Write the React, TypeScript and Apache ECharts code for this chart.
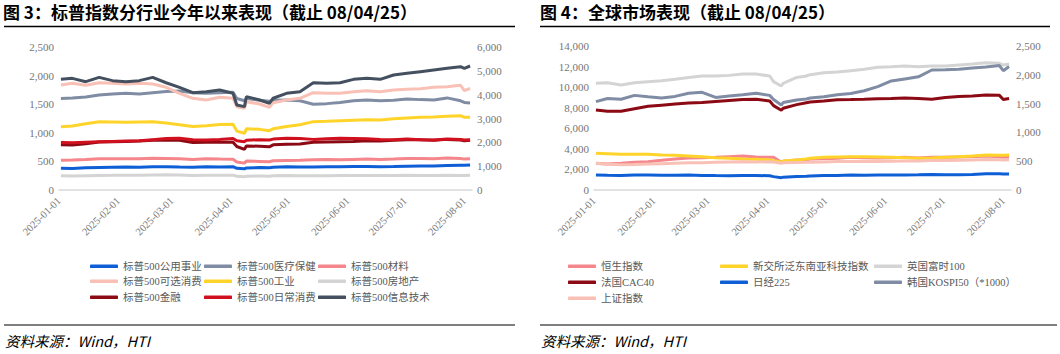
import React, { useEffect, useRef } from 'react';
import * as echarts from 'echarts';

// ---------- shared dates ----------
const dates = [
  '2025-01-02', '2025-01-08', '2025-01-15', '2025-01-22', '2025-01-29',
  '2025-02-05', '2025-02-12', '2025-02-19', '2025-02-26', '2025-03-05',
  '2025-03-12', '2025-03-19', '2025-03-26', '2025-04-02', '2025-04-04',
  '2025-04-08', '2025-04-09', '2025-04-16', '2025-04-21', '2025-04-23',
  '2025-04-30', '2025-05-07', '2025-05-14', '2025-05-21', '2025-05-28',
  '2025-06-04', '2025-06-11', '2025-06-18', '2025-06-25', '2025-07-02',
  '2025-07-09', '2025-07-16', '2025-07-23', '2025-07-30', '2025-08-01',
  '2025-08-04',
];
const monthTicks = ['2025-01-01', '2025-02-01', '2025-03-01', '2025-04-01', '2025-05-01', '2025-06-01', '2025-07-01', '2025-08-01'];

// ---------- Figure 3: S&P 500 sectors ----------
const spUtilities = [380, 378, 390, 395, 398, 400, 398, 405, 405, 400, 398, 405, 402, 408, 380, 370, 385, 392, 388, 398, 405, 400, 400, 405, 408, 410, 412, 408, 410, 415, 418, 420, 428, 432, 432, 438];
const spHealth = [1600, 1610, 1625, 1660, 1680, 1690, 1680, 1700, 1720, 1730, 1700, 1690, 1700, 1710, 1600, 1560, 1600, 1570, 1550, 1570, 1575, 1560, 1500, 1510, 1530, 1560, 1575, 1560, 1570, 1590, 1580, 1575, 1610, 1560, 1530, 1520];
const spMaterials = [520, 525, 535, 548, 545, 545, 548, 555, 552, 545, 535, 545, 540, 538, 490, 470, 505, 500, 495, 510, 515, 520, 530, 532, 530, 535, 540, 535, 540, 552, 550, 548, 560, 550, 540, 545];
const spDiscretionary = [1835, 1865, 1830, 1876, 1865, 1853, 1865, 1853, 1795, 1690, 1603, 1573, 1620, 1603, 1457, 1428, 1544, 1503, 1445, 1527, 1573, 1603, 1701, 1690, 1690, 1719, 1736, 1719, 1748, 1760, 1771, 1795, 1806, 1830, 1736, 1777];
const spIndustrials = [1107, 1120, 1160, 1194, 1190, 1185, 1190, 1194, 1170, 1140, 1110, 1125, 1145, 1150, 1030, 991, 1070, 1060, 1037, 1070, 1110, 1140, 1195, 1200, 1210, 1220, 1230, 1224, 1245, 1260, 1270, 1275, 1290, 1300, 1270, 1272];
const spRealEstate = [248, 245, 250, 255, 256, 258, 257, 262, 265, 262, 255, 258, 256, 260, 240, 232, 242, 245, 242, 248, 252, 250, 250, 248, 252, 252, 255, 252, 254, 256, 255, 254, 260, 254, 255, 256];
const spFinancials = [790, 785, 810, 840, 845, 850, 855, 870, 875, 870, 830, 835, 840, 835, 760, 711, 770, 765, 755, 790, 800, 805, 835, 840, 845, 850, 860, 855, 870, 880, 880, 870, 885, 875, 860, 870];
const spStaples = [830, 825, 835, 845, 850, 855, 860, 880, 900, 905, 880, 875, 885, 900, 860, 845, 870, 880, 875, 890, 905, 900, 885, 895, 905, 900, 895, 885, 880, 890, 880, 875, 890, 885, 875, 880];
const spTech = [4643, 4685, 4545, 4727, 4588, 4545, 4588, 4727, 4500, 4308, 4085, 4126, 4196, 4057, 3566, 3497, 3916, 3776, 3636, 3850, 4057, 4126, 4500, 4475, 4500, 4643, 4685, 4643, 4825, 4895, 4965, 5035, 5105, 5175, 5105, 5203];

const spNames = ['标普500公用事业', '标普500医疗保健', '标普500材料', '标普500可选消费', '标普500工业', '标普500房地产', '标普500金融', '标普500日常消费', '标普500信息技术'];
const spColors = ['#0e5fd6', '#7f8ca3', '#f4868c', '#f9c0b5', '#ffd42a', '#d4d4d4', '#8b0a14', '#d0101e', '#44505f'];
const spValues = [spUtilities, spHealth, spMaterials, spDiscretionary, spIndustrials, spRealEstate, spFinancials, spStaples, spTech];
const spOnRight = [false, false, false, false, false, false, false, false, true];

// ---------- Figure 4: global markets ----------
const gHangSeng = [2593, 2528, 2593, 2690, 2755, 2884, 3014, 3110, 3143, 3176, 3241, 3305, 3208, 3176, 3176, 2690, 2787, 2917, 2949, 3014, 3046, 3078, 3176, 3143, 3110, 3143, 3176, 3110, 3176, 3176, 3208, 3241, 3305, 3241, 3176, 3208];
const gSgxTech = [3565, 3532, 3468, 3468, 3468, 3403, 3370, 3305, 3241, 3143, 3078, 3014, 2981, 2917, 2852, 2722, 2819, 2917, 3014, 3078, 3176, 3208, 3241, 3241, 3208, 3176, 3143, 3078, 3110, 3176, 3241, 3305, 3403, 3370, 3370, 3403];
const gFtse = [1852, 1863, 1823, 1863, 1881, 1898, 1922, 1955, 1979, 1979, 1990, 2014, 2014, 1979, 1881, 1806, 1852, 1955, 1979, 2002, 2037, 2049, 2072, 2095, 2130, 2141, 2153, 2141, 2153, 2153, 2170, 2187, 2210, 2199, 2170, 2187];
const gCac = [7778, 7650, 7650, 7900, 8150, 8250, 8350, 8450, 8500, 8600, 8700, 8800, 8820, 8650, 8200, 7750, 7950, 8300, 8480, 8550, 8650, 8780, 8800, 8830, 8880, 8900, 8950, 8900, 8820, 9000, 9100, 9150, 9240, 9200, 8800, 8900];
const gNikkei = [1460, 1430, 1410, 1450, 1450, 1430, 1440, 1450, 1420, 1400, 1390, 1420, 1420, 1380, 1300, 1200, 1250, 1320, 1330, 1370, 1400, 1420, 1450, 1440, 1460, 1450, 1470, 1480, 1500, 1490, 1480, 1500, 1590, 1580, 1560, 1545];
const gKospi = [8588, 8900, 8820, 9200, 9070, 8950, 9100, 9400, 9500, 9000, 9150, 9250, 9400, 9200, 8800, 8264, 8500, 8750, 8850, 8950, 9070, 9250, 9380, 9650, 10046, 10600, 10800, 11000, 11666, 11700, 11750, 11850, 11950, 12100, 11600, 12000];
const gShanghai = [2593, 2500, 2450, 2470, 2520, 2560, 2600, 2640, 2660, 2700, 2720, 2740, 2730, 2740, 2720, 2600, 2640, 2680, 2700, 2710, 2720, 2760, 2780, 2790, 2780, 2800, 2820, 2830, 2860, 2880, 2900, 2910, 2960, 2950, 2920, 2940];

const gNames = ['恒生指数', '新交所泛东南亚科技指数', '英国富时100', '法国CAC40', '日经225', '韩国KOSPI50（*1000）', '上证指数'];
const gColors = ['#f4868c', '#ffd42a', '#d4d4d4', '#8b0a14', '#0e5fd6', '#7f8ca3', '#f9c0b5'];
const gValues = [gHangSeng, gSgxTech, gFtse, gCac, gNikkei, gKospi, gShanghai];
const gOnRight = [false, false, true, false, false, false, false];

// ---------- helpers ----------
const toTime = (s: string) => {
  const [y, m, d] = s.split('-').map(Number);
  return new Date(y, m - 1, d).getTime();
};
const pad = (n: number) => (n < 10 ? '0' + n : '' + n);
const fmtDate = (v: number) => {
  const d = new Date(v);
  return `${d.getFullYear()}-${pad(d.getMonth() + 1)}-${pad(d.getDate())}`;
};
const fmtNum = (v: number) => Number(v).toLocaleString('en-US');

const SERIF = '"Liberation Serif", "Noto Sans CJK SC", serif';
const LABEL_COLOR = '#757575';

function xAxisCfg(gridIndex: number) {
  return {
    type: 'value',
    gridIndex,
    min: toTime('2025-01-01'),
    max: toTime('2025-08-05'),
    axisLine: { show: true, onZero: false, lineStyle: { color: '#d9d9d9', width: 1.5 } },
    axisTick: { show: false },
    splitLine: { show: false },
    axisLabel: {
      customValues: monthTicks.map(toTime),
      formatter: (v: number) => fmtDate(v),
      rotate: 45,
      margin: 9,
      color: LABEL_COLOR,
      fontSize: 10.5,
      fontFamily: SERIF,
      hideOverlap: false,
    },
  };
}

function yAxisCfg(gridIndex: number, position: string, max: number, interval: number, margin: number) {
  return {
    type: 'value',
    gridIndex,
    position,
    min: 0,
    max,
    interval,
    axisLine: { show: false },
    axisTick: { show: false },
    splitLine: { show: false },
    axisLabel: {
      formatter: (v: number) => fmtNum(v),
      color: LABEL_COLOR,
      fontSize: 11,
      fontFamily: SERIF,
      margin,
    },
  };
}

function buildSeries(names: string[], colors: string[], values: number[][], onRight: boolean[], gridIdx: number) {
  return names.map((name, i) => ({
    name,
    type: 'line',
    xAxisIndex: gridIdx,
    yAxisIndex: gridIdx * 2 + (onRight[i] ? 1 : 0),
    showSymbol: false,
    symbol: 'none',
    color: colors[i],
    itemStyle: { color: colors[i] },
    lineStyle: { color: colors[i], width: 3 },
    data: dates.map((d, j) => [toTime(d), values[i][j]]),
  }));
}

function buildLegends(names: string[], colX: number[], rowY: number[]) {
  return names.map((name, i) => ({
    data: [name],
    left: colX[i % 3] - 5 - 28,
    top: rowY[Math.floor(i / 3)] - 7,
    padding: 0,
    itemWidth: 28,
    itemHeight: 3.5,
    icon: 'roundRect',
    selectedMode: false,
    textStyle: { fontSize: 10.5, color: '#595959', fontFamily: SERIF },
  }));
}

export default function App() {
  const ref = useRef<HTMLDivElement>(null);

  useEffect(() => {
    if (!ref.current) return;
    const chart = echarts.init(ref.current, null, { renderer: 'svg' });
    const titleFont = 'bold 17px "Noto Sans CJK SC", sans-serif';
    const srcFont = 'italic 14.5px "Noto Sans CJK SC", sans-serif';
    const option = {
      animation: false,
      grid: [
        { left: 59, width: 413, top: 47, height: 143 },
        { left: 594, width: 417, top: 46, height: 144 },
      ],
      xAxis: [xAxisCfg(0), xAxisCfg(1)],
      yAxis: [
        yAxisCfg(0, 'left', 2500, 500, 5),
        yAxisCfg(0, 'right', 6000, 1000, 5),
        yAxisCfg(1, 'left', 14000, 2000, 5),
        yAxisCfg(1, 'right', 2500, 500, 5),
      ],
      legend: [
        ...buildLegends(spNames, [123, 237, 351], [268, 283, 299]),
        ...buildLegends(gNames, [601, 753, 907], [268, 284, 300]),
      ],
      series: [
        ...buildSeries(spNames, spColors, spValues, spOnRight, 0),
        ...buildSeries(gNames, gColors, gValues, gOnRight, 1),
      ],
      graphic: [
        {
          type: 'text', left: 3, top: 3,
          style: { text: '图 3：标普指数分行业今年以来表现（截止 08/04/25）', font: titleFont, fill: '#000' },
        },
        {
          type: 'text', left: 540, top: 3,
          style: { text: '图 4：全球市场表现（截止 08/04/25）', font: titleFont, fill: '#000' },
        },
        { type: 'line', shape: { x1: 4, y1: 26.5, x2: 515, y2: 26.5 }, style: { stroke: '#000', lineWidth: 1.5 } },
        { type: 'line', shape: { x1: 540, y1: 26.5, x2: 1050, y2: 26.5 }, style: { stroke: '#000', lineWidth: 1.5 } },
        { type: 'line', shape: { x1: 4, y1: 325, x2: 515, y2: 325 }, style: { stroke: '#000', lineWidth: 1.2 } },
        { type: 'line', shape: { x1: 540, y1: 325, x2: 1057, y2: 325 }, style: { stroke: '#000', lineWidth: 1.2 } },
        {
          type: 'text', left: 5, top: 333,
          style: { text: '资料来源：Wind，HTI', font: srcFont, fill: '#000' },
        },
        {
          type: 'text', left: 541, top: 333,
          style: { text: '资料来源：Wind，HTI', font: srcFont, fill: '#000' },
        },
      ],
    };
    chart.setOption(option as any);
    return () => chart.dispose();
  }, []);

  return (
    <div
      ref={ref}
      style={{ position: 'absolute', left: 0, top: 0, width: 1060, height: 354, background: '#fff' }}
    />
  );
}
